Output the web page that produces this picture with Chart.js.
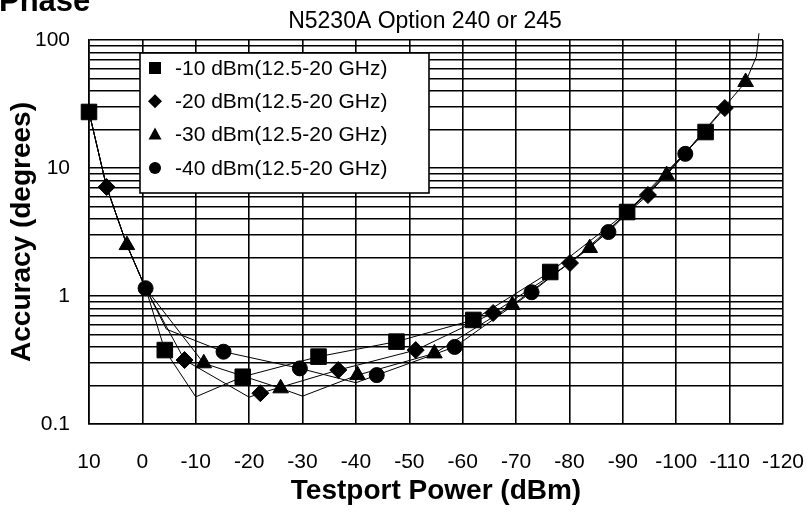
<!DOCTYPE html>
<html>
<head>
<meta charset="utf-8">
<script src="https://cdn.jsdelivr.net/npm/chart.js@4.4.1/dist/chart.umd.min.js"></script>
<style>
  html, body { margin: 0; padding: 0; background: #fff; }
  #wrap { width: 809px; height: 512px; position: relative; }
</style>
</head>
<body>
<div id="wrap"><canvas id="c" width="809" height="512"></canvas></div>
<script>
// ---------------- data ----------------
const chartTitle = 'N5230A Option 240 or 245';
const pageHeading = 'Phase';
const xAxisTitle = 'Testport Power (dBm)';
const yAxisTitle = 'Accuracy (degrees)';
const seriesLabels = ['-10 dBm(12.5-20 GHz)', '-20 dBm(12.5-20 GHz)', '-30 dBm(12.5-20 GHz)', '-40 dBm(12.5-20 GHz)'];
const xTicks = [10, 0, -10, -20, -30, -40, -50, -60, -70, -80, -90, -100, -110, -120];
const yDecades = [0.1, 1, 10, 100];

// -10 dBm series (squares); mark = 1 where a marker is drawn
const sqPower = [10, 6.7, 2.9, -0.6, -4.2, -10, -18.8, -33.0, -47.6, -62.0, -76.4, -90.8, -105.5];
const sqAcc   = [27.4, 7.1, 2.5, 1.15, 0.378, 0.163, 0.234, 0.336, 0.44, 0.65, 1.54, 4.53, 19.1];
const sqMark  = [1, 0, 0, 0, 1, 0, 1, 1, 1, 1, 1, 1, 1];
// -20 dBm series (diamonds)
const diPower = [10, 6.7, 2.9, -0.6, -7.9, -20, -22.1, -36.7, -51.2, -65.7, -80.1, -94.7, -109.1];
const diAcc   = [27.4, 7.1, 2.5, 1.15, 0.316, 0.162, 0.174, 0.264, 0.378, 0.736, 1.81, 6.15, 29.4];
const diMark  = [0, 1, 0, 0, 1, 0, 1, 1, 1, 1, 1, 1, 1];
// -30 dBm series (triangles)
const trPower = [10, 6.7, 2.9, -0.6, -11.5, -25.9, -30, -40.3, -54.7, -69.3, -83.8, -98.2, -113.0, -115.0, -115.5];
const trAcc   = [27.4, 7.1, 2.5, 1.15, 0.298, 0.19, 0.165, 0.241, 0.356, 0.85, 2.37, 8.8, 47, 74, 113];
const trMark  = [0, 0, 1, 0, 1, 1, 0, 1, 1, 1, 1, 1, 1, 0, 0];
// -40 dBm series (circles)
const ciPower = [10, 6.7, 2.9, -0.6, -4.5, -15.2, -29.5, -40, -43.9, -58.5, -72.9, -87.3, -101.7];
const ciAcc   = [27.4, 7.1, 2.5, 1.15, 0.55, 0.367, 0.272, 0.21, 0.241, 0.40, 1.07, 3.16, 12.9];
const ciMark  = [0, 0, 0, 1, 0, 1, 1, 0, 1, 1, 1, 1, 1];

// ---------------- chart ----------------
const FONT = "'Liberation Sans', Arial, sans-serif";
const pts = (p, a) => p.map((v, i) => ({ x: v, y: a[i] }));
const markerSizes = { rect: 11, rectRot: 8.5, triangle: 9, circle: 7.5 };

function makeSeries(label, power, acc, mark, style) {
  return {
    label: label,
    data: pts(power, acc),
    borderColor: '#000',
    borderWidth: 1,
    backgroundColor: '#000',
    pointBackgroundColor: '#000',
    pointBorderColor: '#000',
    pointBorderWidth: 1,
    pointStyle: style,
    pointRadius: ctx => mark[ctx.dataIndex] ? markerSizes[style] : 0,
    pointHoverRadius: 0,
    tension: 0,
    clip: false
  };
}

function logTicks() {
  const out = [];
  for (let e = -1; e <= 1; e++) {
    for (let k = 1; k <= 9; k++) out.push(Number((k * Math.pow(10, e)).toPrecision(3)));
  }
  out.push(100);
  return out;
}

const decorPlugin = {
  id: 'decor',
  afterDraw(chart) {
    const ctx = chart.ctx;
    ctx.save();
    ctx.fillStyle = '#000';
    ctx.textBaseline = 'alphabetic';
    ctx.textAlign = 'left';
    ctx.font = 'bold 31px ' + FONT;
    ctx.fillText(pageHeading, -1, 11);
    ctx.font = '23px ' + FONT;
    ctx.textAlign = 'center';
    ctx.fillText(chartTitle, 425, 28);
    // legend box
    const bx = 140, by = 53, bw = 289, bh = 140;
    ctx.fillStyle = '#fff';
    ctx.fillRect(bx, by, bw, bh);
    ctx.strokeStyle = '#000';
    ctx.lineWidth = 1.6;
    ctx.strokeRect(bx, by, bw, bh);
    ctx.fillStyle = '#000';
    ctx.font = '21px ' + FONT;
    ctx.textAlign = 'left';
    ctx.textBaseline = 'middle';
    chart.data.datasets.forEach((ds, i) => {
      const cy = 68 + 33.3 * i, cx = 155;
      ctx.beginPath();
      if (ds.pointStyle === 'rect') ctx.rect(cx - 6, cy - 6, 12, 12);
      else if (ds.pointStyle === 'rectRot') { ctx.moveTo(cx, cy - 7); ctx.lineTo(cx + 7, cy); ctx.lineTo(cx, cy + 7); ctx.lineTo(cx - 7, cy); ctx.closePath(); }
      else if (ds.pointStyle === 'triangle') { ctx.moveTo(cx, cy - 7); ctx.lineTo(cx + 6.5, cy + 5); ctx.lineTo(cx - 6.5, cy + 5); ctx.closePath(); }
      else ctx.arc(cx, cy, 6, 0, Math.PI * 2);
      ctx.fill();
      ctx.fillText(ds.label, 175, cy + 1);
    });
    ctx.restore();
  }
};

new Chart(document.getElementById('c'), {
  type: 'line',
  data: {
    datasets: [
      makeSeries(seriesLabels[0], sqPower, sqAcc, sqMark, 'rect'),
      makeSeries(seriesLabels[1], diPower, diAcc, diMark, 'rectRot'),
      makeSeries(seriesLabels[2], trPower, trAcc, trMark, 'triangle'),
      makeSeries(seriesLabels[3], ciPower, ciAcc, ciMark, 'circle')
    ]
  },
  options: {
    responsive: false,
    animation: false,
    events: [],
    layout: { padding: { left: 0, top: 40, right: 26, bottom: 0 } },
    plugins: { legend: { display: false }, tooltip: { enabled: false }, title: { display: false } },
    scales: {
      x: {
        type: 'linear',
        reverse: true,
        min: Math.min(...xTicks),
        max: Math.max(...xTicks),
        afterBuildTicks: s => { s.ticks = xTicks.map(v => ({ value: v })); },
        afterFit: s => { s.height = 88; s.paddingLeft = 0; s.paddingRight = 0; },
        grid: { color: '#000', lineWidth: 1.6, drawTicks: false },
        border: { color: '#000', width: 1.6 },
        ticks: {
          autoSkip: false, maxRotation: 0, padding: 26, color: '#000',
          font: { family: FONT, size: 21 },
          callback: v => String(v)
        },
        title: {
          display: true, text: xAxisTitle, color: '#000',
          font: { family: FONT, size: 28, weight: 'bold' },
          padding: { top: 0, bottom: 4 }
        }
      },
      y: {
        type: 'logarithmic',
        min: 0.1,
        max: 100,
        afterBuildTicks: s => { s.ticks = logTicks().map(v => ({ value: v })); },
        afterFit: s => { s.width = 89; },
        grid: { color: '#000', lineWidth: 1.6, drawTicks: false },
        border: { color: '#000', width: 1.6 },
        ticks: {
          autoSkip: false, padding: 19, color: '#000',
          font: { family: FONT, size: 21 },
          callback: v => yDecades.some(d => Math.abs(d - v) < 1e-9) ? String(v) : ''
        },
        title: {
          display: true, text: yAxisTitle, color: '#000',
          font: { family: FONT, size: 28, weight: 'bold' },
          padding: { top: 5, bottom: 0 }
        }
      }
    }
  },
  plugins: [decorPlugin]
});
</script>
</body>
</html>
